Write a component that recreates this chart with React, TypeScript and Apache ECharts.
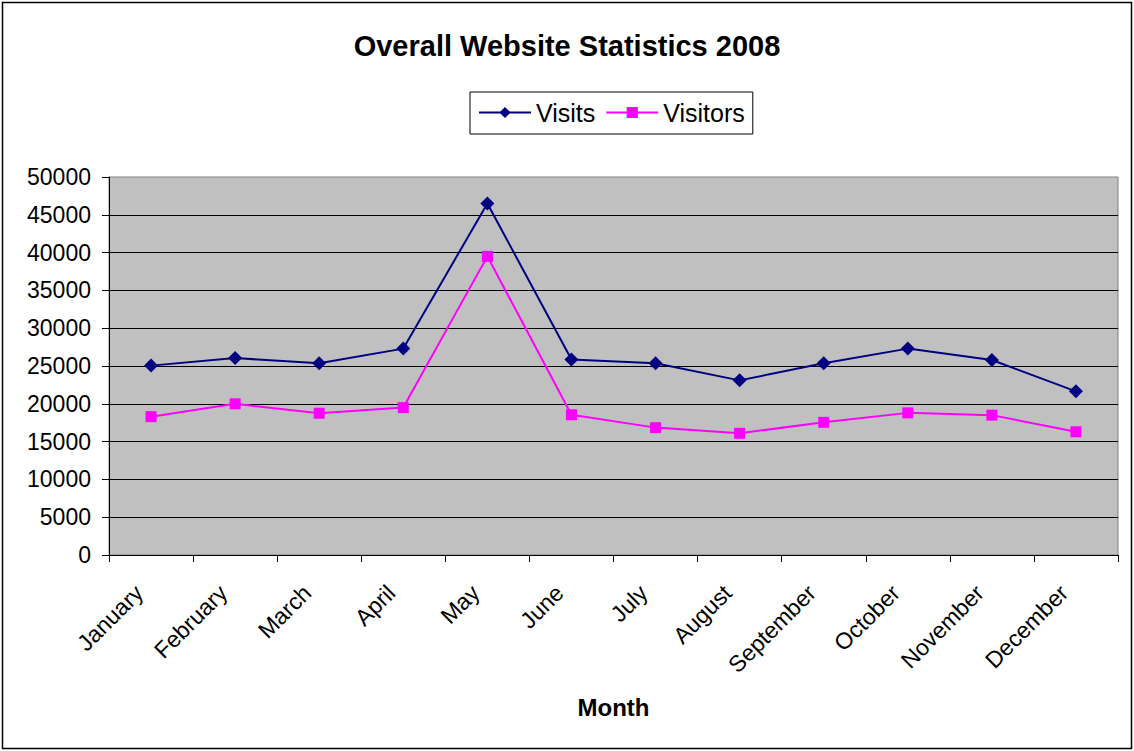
import React, { useEffect, useRef } from "react";
import * as echarts from "echarts";

const months = ["January", "February", "March", "April", "May", "June", "July", "August", "September", "October", "November", "December"];
const visits = [25050, 26050, 25350, 27300, 46500, 25850, 25350, 23100, 25350, 27300, 25800, 21650];
const visitors = [18300, 20000, 18750, 19500, 39500, 18550, 16850, 16100, 17550, 18800, 18500, 16300];

const FONT = "'Liberation Sans', Arial, sans-serif";

export default function App() {
  const ref = useRef<HTMLDivElement>(null);
  useEffect(() => {
    if (!ref.current) return;
    const chart = echarts.init(ref.current, null, { renderer: "svg" });
    chart.setOption({
      animation: false,
      backgroundColor: "#ffffff",
      textStyle: { fontFamily: FONT },
      title: {
        text: "Overall Website Statistics 2008",
        left: "center",
        top: 26,
        textStyle: { fontFamily: FONT, fontSize: 29, fontWeight: "bold", color: "#000" },
      },
      legend: {
        left: 470,
        top: 92,
        orient: "horizontal",
        padding: [8, 8, 9, 8],
        itemWidth: 52,
        itemHeight: 14,
        itemGap: 10,
        borderColor: "#000",
        borderWidth: 1,
        textStyle: { fontFamily: FONT, fontSize: 25, color: "#000" },
        data: ["Visits", "Visitors"],
      },
      grid: {
        left: 109,
        right: 16,
        top: 177,
        bottom: 196,
        show: true,
        backgroundColor: "#C0C0C0",
        borderColor: "#808080",
        borderWidth: 1,
      },
      xAxis: {
        type: "category",
        data: months,
        boundaryGap: true,
        name: "Month",
        nameLocation: "middle",
        nameGap: 140,
        nameTextStyle: { fontFamily: FONT, fontSize: 24, fontWeight: "bold", color: "#000" },
        axisLine: { show: true, lineStyle: { color: "#000", width: 1 } },
        axisTick: { show: true, inside: false, length: 7, lineStyle: { color: "#000" } },
        axisLabel: {
          rotate: 45,
          margin: 22,
          padding: [0, 17, 0, 0],
          interval: 0,
          fontFamily: FONT,
          fontSize: 23,
          color: "#000",
        },
        splitLine: { show: false },
      },
      yAxis: {
        type: "value",
        min: 0,
        max: 50000,
        interval: 5000,
        axisLine: { show: true, lineStyle: { color: "#000", width: 1 } },
        axisTick: { show: true, inside: false, length: 7, lineStyle: { color: "#000" } },
        axisLabel: {
          margin: 18,
          fontFamily: FONT,
          fontSize: 23,
          color: "#000",
          formatter: (v: number) => String(v),
        },
        splitLine: {
          show: true,
          showMinLine: false,
          showMaxLine: false,
          lineStyle: { color: "#000", width: 1 },
        },
      },
      series: [
        {
          name: "Visits",
          type: "line",
          data: visits,
          symbol: "diamond",
          symbolSize: 14,
          showAllSymbol: true,
          color: "#000080",
          lineStyle: { color: "#000080", width: 2 },
          itemStyle: { color: "#000080" },
        },
        {
          name: "Visitors",
          type: "line",
          data: visitors,
          symbol: "rect",
          symbolSize: 11,
          showAllSymbol: true,
          color: "#FF00FF",
          lineStyle: { color: "#FF00FF", width: 2 },
          itemStyle: { color: "#FF00FF" },
        },
      ],
      graphic: [
        {
          type: "rect",
          shape: { x: 2.5, y: 2.5, width: 1129, height: 746 },
          style: { fill: "none", stroke: "#000", lineWidth: 1.5 },
          silent: true,
        },
      ],
    });
    return () => chart.dispose();
  }, []);
  return <div ref={ref} style={{ position: "absolute", left: 0, top: 0, width: 1134, height: 751 }} />;
}
